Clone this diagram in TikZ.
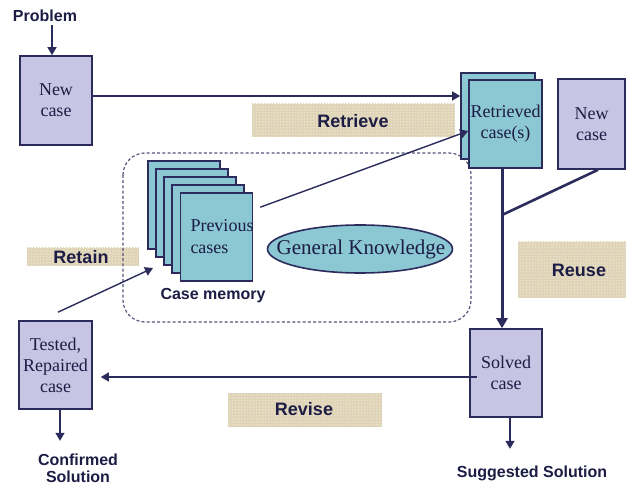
\documentclass[tikz,border=0pt]{standalone}
\usepackage{fontspec}
\setmainfont{Liberation Serif}
\setsansfont{Liberation Sans}
\usetikzlibrary{arrows.meta,shapes.geometric,patterns}
\definecolor{navy}{HTML}{2B2B5C}
\definecolor{ink}{HTML}{1C1C44}
\definecolor{lav}{HTML}{C8C5E4}
\definecolor{teal}{HTML}{8CC7D4}
\definecolor{sand}{HTML}{E3D6B2}
\definecolor{sanddark}{HTML}{C4B28A}
\tikzset{
  casebox/.style={draw=navy,line width=1.6pt,inner sep=0pt,text=ink,align=center,
    font=\fontsize{18}{21}\selectfont},
  lavbox/.style={casebox,fill=lav},
  tealbox/.style={casebox,fill=teal},
  phase/.style={font=\sffamily\bfseries\fontsize{18}{20}\selectfont,text=ink},
  note/.style={font=\sffamily\bfseries\fontsize{16}{19}\selectfont,text=ink,align=center},
  arr/.style={draw=navy,line width=1.4pt,-{Triangle[width=9pt,length=8pt]}},
  link/.style={draw=navy,line width=1.4pt},
  thick link/.style={draw=navy,line width=3pt},
  burlap/.style={fill=sand}
}
\newcommand{\burlappatch}[2]{%
  \fill[burlap] #1 rectangle #2;
  \fill[pattern=grid,pattern color=sanddark!60] #1 rectangle #2;
  \fill[pattern=crosshatch dots,pattern color=white!50!sand] #1 rectangle #2;
}
\begin{document}
\begin{tikzpicture}[x=1pt,y=-1pt]
\useasboundingbox (0,0) rectangle (626,486);

% phase labels on burlap patches
\burlappatch{(252,104)}{(455,137)}
\burlappatch{(518,242)}{(626,297)}
\burlappatch{(228,393)}{(382,426)}
\burlappatch{(27,248)}{(139,266)}
\node[phase] (lretrieve) at (353,121) {Retrieve};
\node[phase] (lreuse) at (579,270) {Reuse};
\node[phase] (lrevise) at (304,409) {Revise};
\node[phase] (lretain) at (81,257) {Retain};

% case memory
\draw[draw=navy!80,line width=1.2pt,dash pattern=on 3pt off 2.2pt,rounded corners=22pt]
  (123,153) rectangle (471,322);
\foreach \k in {0,...,3}
  \node[tealbox,minimum width=72pt,minimum height=88pt] (mem\k) at (184+8*\k,205+8*\k) {};
\node[tealbox,minimum width=72pt,minimum height=88pt] (prev) at (216.5,237) {};
\node[text=ink,font=\fontsize{18}{22}\selectfont,align=left] (prevtxt) at (222,237) {Previous\\cases};
\node[note] (memlbl) at (213,296) {Case memory};
\node[ellipse,draw=navy,line width=1.6pt,fill=teal,minimum width=185pt,minimum height=48pt,inner sep=0pt] (gk) at (360,249) {};
\node[text=ink,font=\fontsize{21}{24}\selectfont] (gktxt) at (361,249) {General Knowledge};

% cases
\node[note] (prob) at (45,16) {Problem};
\node[lavbox,minimum width=72pt,minimum height=89pt] (newL) at (56,100.5) {New\\case};
\node[tealbox,minimum width=74pt,minimum height=86pt] (retB) at (498,116) {};
\node[tealbox,minimum width=73pt,minimum height=88pt] (ret) at (505.5,124) {Retrieved\\case(s)};
\node[lavbox,minimum width=67pt,minimum height=90pt] (newR) at (591.5,124) {New\\case};
\node[lavbox,minimum width=72pt,minimum height=88pt] (solved) at (506,373) {Solved\\case};
\node[lavbox,minimum width=73pt,minimum height=88pt] (tested) at (55.5,365) {Tested,\\Repaired\\case};
\node[note,anchor=north,font=\sffamily\bfseries\fontsize{16}{17}\selectfont] (confirmed) at (78,450) {Confirmed\\Solution};
\node[note] (suggested) at (532,473) {Suggested Solution};

\coordinate (join) at (502,215);
\coordinate (memin) at (153,268);

% connectors
\draw[arr] ([xshift=-4pt]newL.north |- prob.south) -- ([xshift=-4pt]newL.north);
\draw[arr] ([yshift=4.5pt]newL.east) -- ([yshift=4.5pt]newL.east -| retB.west);
\draw[arr] ([shift={(7pt,-15pt)}]prev.north east) -- ([yshift=-7pt]ret.west);
\draw[thick link,-{Triangle[width=11pt,length=10pt]}] ([xshift=-3.5pt]ret.south) -- ([xshift=-3.5pt]ret.south |- solved.north);
\draw[link,line width=2.6pt] ([xshift=6.5pt]newR.south) -- (join);
\draw[arr] ([shift={(8pt,-4pt)}]solved.west) -- ([shift={(8pt,-4pt)}]solved.west -| tested.east);
\draw[arr] ([yshift=8pt]tested.north) ++(2.5pt,0) -- (memin);
\draw[arr] ([xshift=4.5pt]tested.south) -- ([xshift=4.5pt,yshift=-31pt]tested.south);
\draw[arr] ([xshift=4pt]solved.south) -- ([xshift=4pt,yshift=-31pt]solved.south);
\end{tikzpicture}
\end{document}
